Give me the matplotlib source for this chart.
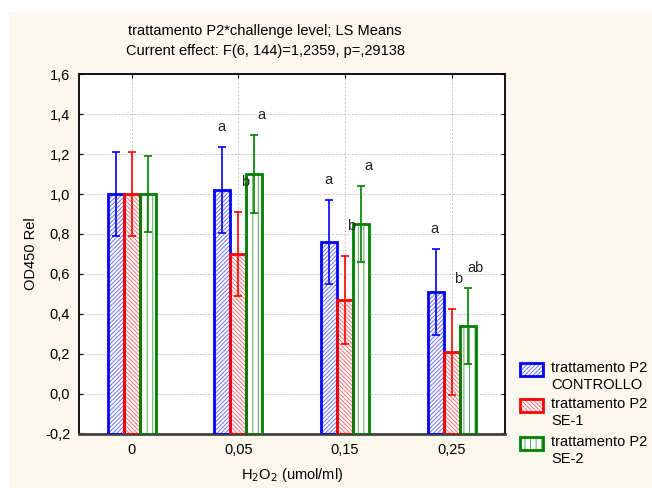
import matplotlib.pyplot as plt
from matplotlib.patches import Rectangle
import numpy as np

plt.rcParams['font.family'] = ['Liberation Sans', 'DejaVu Sans']
plt.rcParams['font.size'] = 10.5
plt.rcParams['hatch.linewidth'] = 0.7

# data
levels = ["0", "0,05", "0,15", "0,25"]
series = ["trattamento P2\nCONTROLLO", "trattamento P2\nSE-1", "trattamento P2\nSE-2"]
controllo = [1.00, 1.02, 0.76, 0.51]
se1 = [1.00, 0.70, 0.47, 0.21]
se2 = [1.00, 1.10, 0.85, 0.34]
err_controllo = [0.21, 0.215, 0.21, 0.215]
err_se1 = [0.21, 0.21, 0.22, 0.215]
err_se2 = [0.19, 0.195, 0.19, 0.19]
letters_controllo = ["", "a", "a", "a"]
letters_se1 = ["", "b", "b", "b"]
letters_se2 = ["", "a", "a", "ab"]

colors = ["#0000ff", "#ff0000", "#008000"]
hatch_colors = ["#7070ff", "#ff7070", "#55a855"]
hatches = ["////////", "\\\\\\\\\\\\\\\\", "|||"]
bg = "#fdf8ee"

W, H = 652, 488
fig = plt.figure(figsize=(6.52, 4.88), dpi=100)
fig.patch.set_facecolor("white")
fig.patches.append(Rectangle((9 / W, 0), 1, 1 - 12 / H, transform=fig.transFigure,
                             facecolor=bg, edgecolor="none", zorder=-10))

ax = fig.add_axes([78.5 / W, 1 - 433.5 / H, (505 - 78.5) / W, (433.5 - 74.3) / H])
ax.set_facecolor("white")

base = -0.2
width = 0.15
x = np.arange(len(levels)) + 0.5
all_vals = [controllo, se1, se2]
all_errs = [err_controllo, err_se1, err_se2]
all_letters = [letters_controllo, letters_se1, letters_se2]
letter_dy = [0.10, 0.15, 0.10]
letter_dx = [-0.01, 0.06, 0.07]

for i in range(3):
    xs = x + (i - 1) * width
    vals = np.array(all_vals[i])
    errs = np.array(all_errs[i])
    ax.bar(xs, vals - base, width, bottom=base, color="white", edgecolor=hatch_colors[i],
           hatch=hatches[i], linewidth=0, zorder=2)
    ax.bar(xs, vals - base, width, bottom=base, color="none", edgecolor=colors[i],
           linewidth=2, zorder=3)
    ax.errorbar(xs, vals, yerr=errs, fmt="none", ecolor=colors[i], elinewidth=1.2,
                capsize=3, capthick=1.2, zorder=4)
    for j, lab in enumerate(all_letters[i]):
        if lab:
            ax.text(xs[j] + letter_dx[i], vals[j] + errs[j] + letter_dy[i], lab,
                    ha="center", va="center", fontsize=10.5, color="#222222", zorder=5)

ax.set_xlim(0, 4)
ax.set_ylim(-0.2, 1.6)
ax.set_xticks(x)
ax.set_xticklabels(levels)
yt = np.arange(-0.2, 1.61, 0.2)
ax.set_yticks(yt)
ax.set_yticklabels([f"{v:.1f}".replace(".", ",") for v in yt])
ax.tick_params(direction="in", length=3, width=0.8, top=True, right=True, colors="black",
               labelsize=10.5)
ax.tick_params(axis="x", pad=7)
ax.tick_params(axis="y", pad=6)
ax.grid(True, linestyle=(0, (2, 2)), color="#c4c4c4", linewidth=0.7, zorder=0)
ax.set_axisbelow(True)
for side in ["left", "top", "right"]:
    ax.spines[side].set_linewidth(1.3)
ax.spines["bottom"].set_linewidth(2)
ax.spines["bottom"].set_color("#444444")

ax.set_ylabel("OD450 Rel", fontsize=10.5, labelpad=5)
ax.set_xlabel("H$_2$O$_2$ (umol/ml)", fontsize=10.5, labelpad=6)

fig.text(265 / W, 1 - 31 / H, "trattamento P2*challenge level; LS Means",
         ha="center", va="center", fontsize=10.5)
fig.text(265 / W, 1 - 51 / H, "Current effect: F(6, 144)=1,2359, p=,29138",
         ha="center", va="center", fontsize=10.5)

# legend drawn by hand so the box lines up with the first text line
leg_top = [363, 399, 437]
for i in range(3):
    y0 = 1 - (leg_top[i] + 13) / H
    fig.patches.append(Rectangle((520 / W, y0), 23 / W, 13 / H, transform=fig.transFigure,
                                 facecolor="white", edgecolor=hatch_colors[i], hatch=hatches[i],
                                 linewidth=0, zorder=2))
    fig.patches.append(Rectangle((520 / W, y0), 23 / W, 13 / H, transform=fig.transFigure,
                                 facecolor="none", edgecolor=colors[i], linewidth=2, zorder=3))
    fig.text(551 / W, 1 - (leg_top[i] - 2) / H, series[i], ha="left", va="top",
             fontsize=10.5, linespacing=1.25)

fig.savefig("out.png", dpi=100, facecolor=fig.get_facecolor())
